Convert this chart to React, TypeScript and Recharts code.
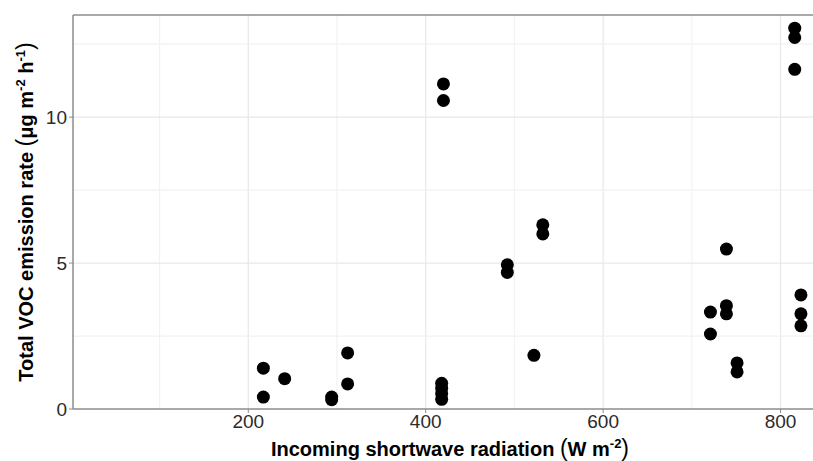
import { ScatterChart, Scatter, XAxis, YAxis, ReferenceLine, Label } from 'recharts'

// incoming shortwave radiation (W m-2)
const radiation = [
  217, 217, 241, 294, 294, 312, 312,
  418, 418, 418, 418, 420, 420,
  492, 492, 522, 532, 532,
  721, 721, 739, 739, 739, 751, 751,
  816, 816, 816, 823, 823, 823,
]
// total VOC emission rate (µg m-2 h-1)
const vocRate = [
  1.40, 0.41, 1.04, 0.41, 0.32, 1.92, 0.86,
  0.88, 0.71, 0.53, 0.33, 11.14, 10.57,
  4.94, 4.68, 1.84, 6.31, 6.00,
  3.32, 2.57, 5.48, 3.54, 3.26, 1.58, 1.27,
  13.05, 12.73, 11.64, 3.91, 3.26, 2.85,
]

const xTicks = [200, 400, 600, 800]
const yTicks = [0, 5, 10]
const xGrid = [100, 200, 300, 400, 500, 600, 700, 800]
const yGrid = [2.5, 5, 7.5, 10, 12.5]
const xDomain = [2.4, 836.6]
const yDomain = [0, 13.5]

const points = radiation.map((x, i) => ({ x, y: vocRate[i] }))

const FONT = '"Liberation Sans", Arial, sans-serif'
const BORDER = '#8c8c8c'

function Dot(props: any) {
  return <circle cx={props.cx} cy={props.cy} r={6.5} fill="#000" />
}

function XTitle(props: any) {
  const vb = props.viewBox
  return (
    <text x={vb.x + 377} y={vb.y + 47} textAnchor="middle" fontFamily={FONT}
      fontWeight="bold" fontSize={20} fill="#000">
      Incoming shortwave radiation <tspan fontSize={23} fontWeight="normal">(</tspan>W m
      <tspan dy={-8} fontSize={13}>-2</tspan>
      <tspan dy={8} fontSize={23} fontWeight="normal">)</tspan>
    </text>
  )
}

function YTitle(props: any) {
  const vb = props.viewBox
  const cx = vb.x + 33
  const cy = vb.y + vb.height / 2
  return (
    <text x={cx} y={cy} transform={`rotate(-90, ${cx}, ${cy})`} textAnchor="middle"
      fontFamily={FONT} fontWeight="bold" fontSize={20} fill="#000">
      Total VOC emission rate <tspan fontSize={23} fontWeight="normal">(</tspan>μg m
      <tspan dy={-8} fontSize={13}>-2</tspan>
      <tspan dy={8}> h</tspan>
      <tspan dy={-8} fontSize={13}>-1</tspan>
      <tspan dy={8} fontSize={23} fontWeight="normal">)</tspan>
    </text>
  )
}

export default function App() {
  return (
    <div style={{ position: 'absolute', left: 0, top: 0, width: 813, height: 461, background: '#fff' }}>
      <ScatterChart width={813} height={461} margin={{ top: 15, right: 0, bottom: 0, left: 0 }}>
        {xGrid.map(v => (
          <ReferenceLine key={'x' + v} x={v} stroke={v % 200 === 0 ? '#e8e8e8' : '#f2f2f2'} strokeWidth={1.2} />
        ))}
        {yGrid.map(v => (
          <ReferenceLine key={'y' + v} y={v} stroke={v % 5 === 0 ? '#e8e8e8' : '#f2f2f2'} strokeWidth={1.2} />
        ))}
        <ReferenceLine y={yDomain[1]} stroke={BORDER} strokeWidth={1.5} />
        <XAxis
          type="number"
          dataKey="x"
          domain={xDomain}
          ticks={xTicks}
          allowDataOverflow
          height={52}
          axisLine={{ stroke: BORDER, strokeWidth: 1.5 }}
          tickLine={{ stroke: BORDER }}
          tickSize={4}
          tick={{ fontSize: 19, fill: '#2b2b2b', fontFamily: FONT }}
        >
          <Label content={<XTitle />} />
        </XAxis>
        <YAxis
          type="number"
          dataKey="y"
          domain={yDomain}
          ticks={yTicks}
          allowDataOverflow
          width={73}
          axisLine={{ stroke: BORDER, strokeWidth: 1.5 }}
          tickLine={{ stroke: BORDER }}
          tickSize={4}
          tick={{ fontSize: 19, fill: '#2b2b2b', fontFamily: FONT }}
        >
          <Label content={<YTitle />} />
        </YAxis>
        <Scatter data={points} shape={<Dot />} isAnimationActive={false} />
      </ScatterChart>
    </div>
  )
}
